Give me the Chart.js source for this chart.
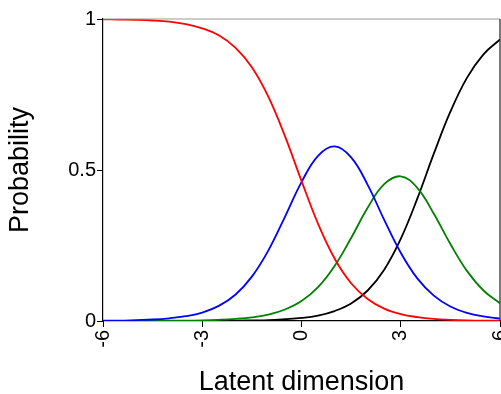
<!DOCTYPE html>
<html>
<head>
<meta charset="utf-8">
<script src="https://cdn.jsdelivr.net/npm/chart.js@4/dist/chart.umd.min.js"></script>
<style>
  html, body { margin: 0; padding: 0; background: #fff; overflow: hidden; }
</style>
</head>
<body>
<canvas id="curveChart" width="501" height="394"></canvas>
<script>
// Trục hoành (latent dimension)
const xValues = [-6, -5.5, -5, -4.5, -4, -3.5, -3, -2.5, -2, -1.5, -1, -0.5, 0,
  0.5, 1, 1.5, 2, 2.5, 3, 3.5, 4, 4.5, 5, 5.5, 6];

// Đường cong xác suất cho từng mức
const redValues = [0.999, 0.998, 0.997, 0.995, 0.991, 0.983, 0.969, 0.946, 0.905, 0.840, 0.742, 0.612, 0.464,
  0.322, 0.207, 0.125, 0.073, 0.041, 0.023, 0.013, 0.007, 0.004, 0.002, 0.001, 0.001];
const blueValues = [0.001, 0.001, 0.003, 0.005, 0.009, 0.016, 0.028, 0.050, 0.087, 0.147, 0.234, 0.345, 0.460,
  0.547, 0.578, 0.542, 0.451, 0.335, 0.226, 0.141, 0.084, 0.048, 0.027, 0.015, 0.008];
const greenValues = [0, 0, 0, 0, 0.001, 0.001, 0.002, 0.004, 0.007, 0.012, 0.021, 0.038, 0.066,
  0.112, 0.182, 0.275, 0.375, 0.453, 0.479, 0.441, 0.355, 0.255, 0.166, 0.101, 0.059];
const blackValues = [0, 0, 0, 0, 0, 0, 0, 0.001, 0.001, 0.002, 0.003, 0.006, 0.010,
  0.018, 0.033, 0.058, 0.101, 0.170, 0.272, 0.405, 0.554, 0.693, 0.805, 0.883, 0.932];

const xTicks = [-6, -3, 0, 3, 6];
const yTicks = [0, 0.5, 1];

function toPoints(ys) {
  return xValues.map((x, i) => ({ x: x, y: ys[i] }));
}

function makeLine(ys, color) {
  return {
    data: toPoints(ys),
    borderColor: color,
    borderWidth: 1.8,
    pointRadius: 0,
    tension: 0.4,
    fill: false
  };
}

// Khung viền trên và phải
const framePlugin = {
  id: 'frame',
  afterDatasetsDraw(chart) {
    const { ctx, chartArea: a } = chart;
    ctx.save();
    ctx.lineWidth = 1.2;
    ctx.strokeStyle = '#999';
    ctx.beginPath();
    ctx.moveTo(a.left, a.top);
    ctx.lineTo(a.right, a.top);
    ctx.stroke();
    ctx.strokeStyle = '#222';
    ctx.beginPath();
    ctx.moveTo(a.right, a.top);
    ctx.lineTo(a.right, a.bottom);
    ctx.stroke();
    ctx.restore();
  }
};

const font = 'Liberation Sans, Arial, sans-serif';

new Chart(document.getElementById('curveChart'), {
  type: 'line',
  data: {
    datasets: [
      makeLine(redValues, '#ff0000'),
      makeLine(blueValues, '#0000ff'),
      makeLine(greenValues, '#008000'),
      makeLine(blackValues, '#000000')
    ]
  },
  options: {
    responsive: false,
    animation: false,
    devicePixelRatio: 1,
    layout: { padding: { top: 19, right: 1, bottom: 0, left: 0 } },
    plugins: {
      legend: { display: false },
      tooltip: { enabled: false }
    },
    scales: {
      x: {
        type: 'linear',
        min: -6,
        max: 6,
        afterBuildTicks(scale) {
          scale.ticks = xTicks.map(v => ({ value: v }));
        },
        afterFit(scale) {
          scale.height = 73;
          scale.paddingLeft = 0;
          scale.paddingRight = 0;
        },
        ticks: {
          minRotation: 90,
          maxRotation: 90,
          autoSkip: false,
          padding: 3,
          color: '#000',
          font: { family: font, size: 20 }
        },
        grid: { drawOnChartArea: false, tickLength: 6, color: '#000', lineWidth: 1 },
        border: { color: '#000', width: 1.2 },
        title: {
          display: true,
          text: 'Latent dimension',
          color: '#000',
          font: { family: font, size: 27, lineHeight: 1 },
          padding: { top: 0, bottom: -2 }
        }
      },
      y: {
        min: 0,
        max: 1,
        afterBuildTicks(scale) {
          scale.ticks = yTicks.map(v => ({ value: v }));
        },
        afterFit(scale) {
          scale.width = 103;
        },
        ticks: {
          padding: 1,
          color: '#000',
          font: { family: font, size: 20 },
          callback: v => String(v)
        },
        grid: { drawOnChartArea: false, tickLength: 6, color: '#000', lineWidth: 1 },
        border: { color: '#000', width: 1.2 },
        title: {
          display: true,
          text: 'Probability',
          color: '#000',
          font: { family: font, size: 27, lineHeight: 1 },
          padding: { top: 7, bottom: 0 }
        }
      }
    }
  },
  plugins: [framePlugin]
});
</script>
</body>
</html>
